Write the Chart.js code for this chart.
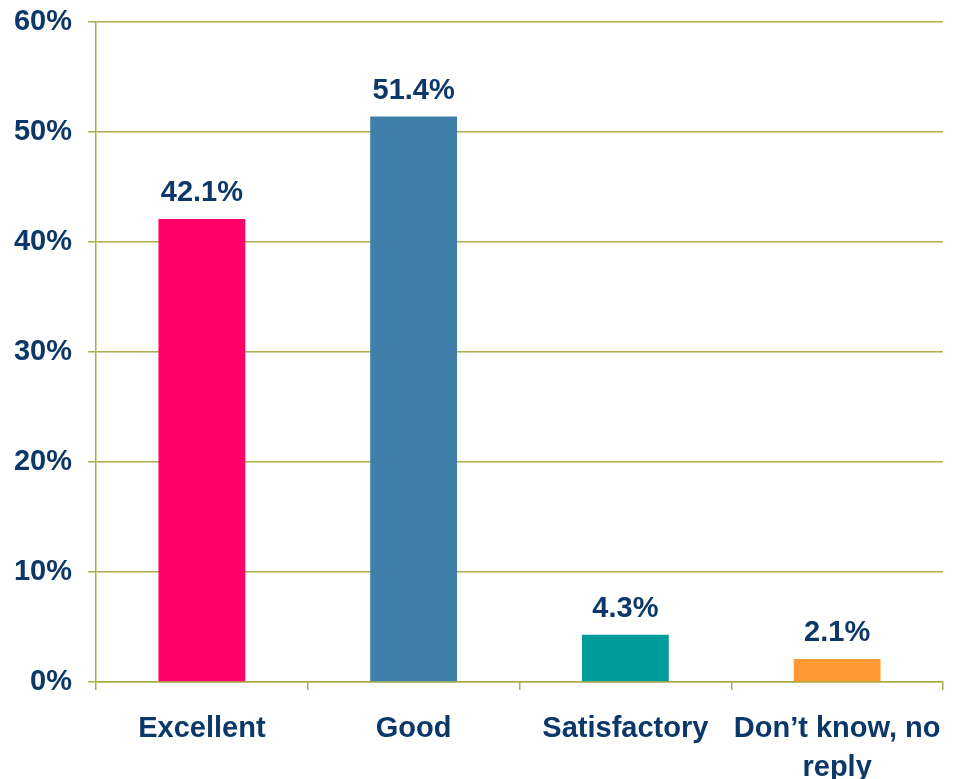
<!DOCTYPE html>
<html>
<head>
<meta charset="utf-8">
<script src="https://cdn.jsdelivr.net/npm/chart.js@4/dist/chart.umd.min.js"></script>
<style>
  html, body { margin: 0; padding: 0; background: #fff; }
  #wrap { width: 966px; height: 779px; }
</style>
</head>
<body>
<div id="wrap"><canvas id="ratingChart"></canvas></div>
<script>
const categories = ["Excellent", "Good", "Satisfactory", ["Don\u2019t know, no", "reply"]];
const shares = [42.1, 51.4, 4.3, 2.1];
const barColors = ["#ff0066", "#3f7fa9", "#009b9b", "#ff9933"];
const yTicks = [0, 10, 20, 30, 40, 50, 60];

const textColor = "#0b3868";
const gridColor = "#acac48";
const fontFamily = "'Liberation Sans', Arial, sans-serif";

// draws the value above each bar
const valueLabels = {
  id: "valueLabels",
  afterDatasetsDraw(chart) {
    const ctx = chart.ctx;
    const meta = chart.getDatasetMeta(0);
    ctx.save();
    ctx.font = "bold 29px " + fontFamily;
    ctx.fillStyle = textColor;
    ctx.textAlign = "center";
    ctx.textBaseline = "bottom";
    meta.data.forEach((bar, i) => {
      ctx.fillText(shares[i].toFixed(1) + "%", bar.x, bar.y - 11);
    });
    ctx.restore();
  },
};

const ratingChart = new Chart(document.getElementById("ratingChart").getContext("2d"), {
  type: "bar",
  data: {
    labels: categories,
    datasets: [
      {
        data: shares,
        backgroundColor: barColors,
        borderWidth: 0,
        barPercentage: 0.41,
        categoryPercentage: 1,
      },
    ],
  },
  options: {
    responsive: true,
    maintainAspectRatio: false,
    animation: false,
    layout: { padding: { top: 22, right: 23, left: 0, bottom: 0 } },
    plugins: {
      legend: { display: false },
      tooltip: { enabled: false },
    },
    scales: {
      x: {
        grid: {
          offset: true,
          drawOnChartArea: false,
          drawTicks: true,
          tickLength: 8,
          color: gridColor,
          lineWidth: 1.5,
        },
        border: { color: gridColor, width: 1.5 },
        ticks: {
          color: textColor,
          padding: 19,
          maxRotation: 0,
          autoSkip: false,
          font: { family: fontFamily, size: 29, weight: "bold", lineHeight: 1.35 },
        },
        afterFit(scale) {
          scale.height = 97;
          scale.paddingLeft = 0;
          scale.paddingRight = 0;
        },
      },
      y: {
        min: 0,
        max: 60,
        afterBuildTicks(scale) { scale.ticks = yTicks.map((v) => ({ value: v })); },
        grid: {
          color: gridColor,
          lineWidth: 1.5,
          tickLength: 8,
        },
        border: { color: gridColor, width: 1.5 },
        ticks: {
          color: textColor,
          padding: 16,
          callback: (v) => v + "%",
          font: { family: fontFamily, size: 29, weight: "bold" },
        },
        afterFit(scale) {
          scale.width = 96;
          scale.paddingTop = 0;
          scale.paddingBottom = 0;
        },
      },
    },
  },
  plugins: [valueLabels],
});
</script>
</body>
</html>
